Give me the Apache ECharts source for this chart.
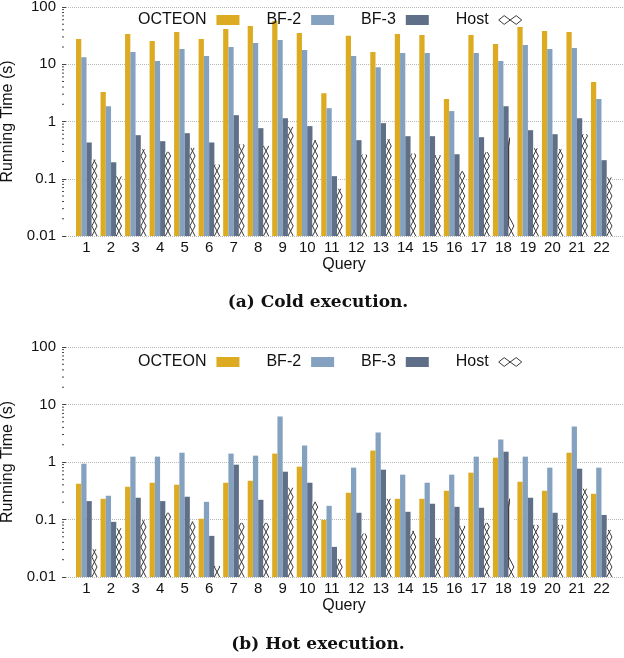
<!DOCTYPE html>
<html lang="en">
<head>
    <meta charset="UTF-8">
    <title>Running time per query</title>
    <script src="https://cdn.jsdelivr.net/npm/echarts@6/dist/echarts.min.js"></script>
    <style>
        html, body { margin: 0; padding: 0; background: #fff; }
    </style>
</head>
<body>
    <div id="main" style="width:624px;height:658px;"></div>
    <script type="text/javascript">
        // query ids and axis tick labels
        var queries = ['1','2','3','4','5','6','7','8','9','10','11','12','13','14','15','16','17','18','19','20','21','22'];
        var yTicks = ['0.01','0.1','1','10','100'];
        var yMinorSteps = [2,3,4,5,6,7,8,9];

        // cold execution, running time (s)
        var coldOcteon = [27.6, 3.26, 33.7, 25.4, 36.5, 27.6, 41.2, 46.5, 57, 35.1, 3.13, 31.5, 16.3, 33.7, 32.4, 2.46, 32.4, 22.5, 44.7, 38.0, 36.5, 4.88];
        var coldBF2    = [13.3, 1.85, 16.3, 11.4, 18.4, 13.9, 20.0, 23.5, 26.5, 17.7, 1.71, 13.9, 8.9, 15.7, 15.7, 1.52, 15.7, 11.4, 21.6, 18.4, 19.2, 2.46];
        var coldBF3    = [0.43, 0.194, 0.577, 0.453, 0.625, 0.43, 1.29, 0.765, 1.14, 0.83, 0.111, 0.472, 0.935, 0.554, 0.554, 0.268, 0.532, 1.85, 0.705, 0.60, 1.14, 0.211];
        var coldHost   = [0.216, 0.11, 0.328, 0.295, 0.346, 0.177, 0.40, 0.375, 0.806, 0.472, 0.067, 0.265, 0.49, 0.276, 0.258, 0.135, 0.291, 0.518, 0.342, 0.328, 0.60, 0.106];

        // hot execution, running time (s)
        var hotOcteon = [0.419, 0.229, 0.371, 0.436, 0.403, 0.103, 0.436, 0.472, 1.40, 0.829, 0.0987, 0.292, 1.58, 0.229, 0.229, 0.316, 0.652, 1.19, 0.454, 0.316, 1.45, 0.28];
        var hotBF2    = [0.935, 0.259, 1.24, 1.24, 1.45, 0.203, 1.40, 1.29, 6.18, 1.93, 0.173, 0.797, 3.25, 0.602, 0.436, 0.602, 1.24, 2.45, 1.24, 0.797, 4.13, 0.797];
        var hotBF3    = [0.209, 0.091, 0.239, 0.209, 0.249, 0.0519, 0.898, 0.22, 0.678, 0.436, 0.0334, 0.131, 0.735, 0.136, 0.188, 0.166, 0.16, 1.51, 0.239, 0.131, 0.765, 0.12];
        var hotHost   = [0.0304, 0.0706, 0.097, 0.131, 0.092, 0.0156, 0.0875, 0.0875, 0.357, 0.203, 0.0206, 0.057, 0.229, 0.0634, 0.048, 0.0775, 0.0875, 0.229, 0.0807, 0.0807, 0.343, 0.066];

        var colors = ['#dcab22', '#84a2c0', '#5f6f87'];
        var hatchColor = '#3a3a3a';
        var yMin = 0.01, yMax = 100;
        var groupGap = 0.144;   // share of the band left empty
        var hatchStep = 10;     // px height of one X of the Host hatch

        var chartDom = document.getElementById('main');
        var chart = echarts.init(chartDom, null, {renderer: 'canvas'});

        function toPairs(arr) {
            return arr.map(function (v, i) { return [i + 1, v]; });
        }

        // bar k of a 4-bar group, drawn through the axes
        function barRenderer(slot, hatched) {
            return function (params, api) {
                var x = api.value(0), v = api.value(1);
                var top = api.coord([x, v]);
                var base = api.coord([x, yMin]);
                var band = api.coord([x + 1, v])[0] - top[0];
                var w = band * (1 - groupGap) / 4;
                var left = top[0] - 2 * w + slot * w;
                if (!hatched) {
                    return {
                        type: 'rect',
                        shape: {x: left, y: top[1], width: w, height: base[1] - top[1]},
                        style: {fill: api.visual('color')}
                    };
                }
                var right = left + w;
                var h = base[1] - top[1];
                var ptsA = [[left, base[1]]], ptsB = [[right, base[1]]];
                var y = 0;
                while (y < h) {
                    var step = Math.min(hatchStep, h - y);
                    var frac = step / hatchStep;
                    var aFrom = ptsA[ptsA.length - 1][0], bFrom = ptsB[ptsB.length - 1][0];
                    var aTo = aFrom === left ? left + w * frac : right - w * frac;
                    var bTo = bFrom === left ? left + w * frac : right - w * frac;
                    y += step;
                    ptsA.push([aTo, base[1] - y]);
                    ptsB.push([bTo, base[1] - y]);
                    if (step < hatchStep) break;
                }
                return {
                    type: 'group',
                    children: [
                        {type: 'rect', shape: {x: left, y: top[1], width: w, height: h}, style: {fill: '#fff'}},
                        {type: 'polyline', shape: {points: ptsA}, style: {stroke: hatchColor, fill: null, lineWidth: 1}},
                        {type: 'polyline', shape: {points: ptsB}, style: {stroke: hatchColor, fill: null, lineWidth: 1}}
                    ]
                };
            };
        }

        // small inward minor ticks on the log axis
        function minorTickRenderer(params, api) {
            var p = api.coord([0, api.value(1)]);
            return {
                type: 'line',
                shape: {x1: p[0], y1: p[1], x2: p[0] + 2, y2: p[1]},
                style: {stroke: '#444', lineWidth: 1}
            };
        }

        var minorTicks = [];
        for (var d = 0; d < yTicks.length - 1; d++) {
            yMinorSteps.forEach(function (s) { minorTicks.push([0, s * Number(yTicks[d])]); });
        }

        function panelSeries(idx, oct, bf2, bf3, host) {
            var base = {type: 'custom', xAxisIndex: idx, yAxisIndex: idx, z: 3};
            return [
                Object.assign({}, base, {name: 'OCTEON', itemStyle: {color: colors[0]}, renderItem: barRenderer(0, false), data: toPairs(oct)}),
                Object.assign({}, base, {name: 'BF-2', itemStyle: {color: colors[1]}, renderItem: barRenderer(1, false), data: toPairs(bf2)}),
                Object.assign({}, base, {name: 'BF-3', itemStyle: {color: colors[2]}, renderItem: barRenderer(2, false), data: toPairs(bf3)}),
                Object.assign({}, base, {name: 'Host', itemStyle: {color: hatchColor}, renderItem: barRenderer(3, true), data: toPairs(host)}),
                Object.assign({}, base, {name: 'minor', silent: true, renderItem: minorTickRenderer, data: minorTicks})
            ];
        }

        function legendOf(top) {
            return {
                top: top, left: 138, orient: 'horizontal', align: 'right', padding: 0,
                itemWidth: 23, itemHeight: 10, itemGap: 27,
                selectedMode: false,
                textStyle: {fontFamily: 'Liberation Sans', fontSize: 16, color: '#111', padding: [0, 5, 0, 0]},
                data: [
                    {name: 'OCTEON', icon: 'rect'},
                    {name: 'BF-2', icon: 'rect'},
                    {name: 'BF-3', icon: 'rect'},
                    {name: 'Host', icon: 'path://M0,4L5,0L16,8L21,4L16,0L5,8Z',
                        itemStyle: {color: 'rgba(0,0,0,0)', borderColor: hatchColor, borderWidth: 1}}
                ]
            };
        }

        function xAxisOf(idx) {
            return {
                type: 'value', gridIndex: idx, min: 0, max: 23, interval: 1,
                name: 'Query', nameLocation: 'middle', nameGap: 21,
                nameTextStyle: {fontFamily: 'Liberation Sans', fontSize: 16, color: '#111'},
                axisLine: {show: false}, axisTick: {show: false}, splitLine: {show: false},
                axisLabel: {
                    margin: 4, fontFamily: 'Liberation Sans', fontSize: 15, color: '#111',
                    formatter: function (v) { return queries[v - 1] || ''; }
                }
            };
        }

        function yAxisOf(idx) {
            return {
                type: 'log', gridIndex: idx, logBase: 10, min: yMin, max: yMax, splitNumber: 4,
                name: 'Running Time (s)', nameLocation: 'middle', nameGap: 46,
                nameTextStyle: {fontFamily: 'Liberation Sans', fontSize: 16, color: '#111'},
                axisLine: {show: false},
                axisTick: {show: true, inside: true, length: 4, lineStyle: {color: '#444'}},
                splitLine: {show: true, lineStyle: {type: 'dotted', color: '#b8b8b8', width: 1}},
                axisLabel: {
                    margin: 6, fontFamily: 'Liberation Sans', fontSize: 15, color: '#111',
                    formatter: function (v) { return yTicks[Math.round(Math.log10(v)) + 2]; }
                }
            };
        }

        var option = {
            backgroundColor: '#fff',
            animation: false,
            grid: [
                {left: 62, right: -2, top: 7, height: 229, outerBoundsMode: 'none'},
                {left: 62, right: -2, top: 347, height: 230, outerBoundsMode: 'none'}
            ],
            legend: [legendOf(12), legendOf(354)],
            xAxis: [xAxisOf(0), xAxisOf(1)],
            yAxis: [yAxisOf(0), yAxisOf(1)],
            graphic: [
                {type: 'text', x: 318, y: 303, style: {text: '(a) Cold execution.', font: 'bold 17px "DejaVu Serif"', fill: '#111', align: 'center', verticalAlign: 'middle'}},
                {type: 'text', x: 318, y: 645, style: {text: '(b) Hot execution.', font: 'bold 17px "DejaVu Serif"', fill: '#111', align: 'center', verticalAlign: 'middle'}}
            ],
            series: panelSeries(0, coldOcteon, coldBF2, coldBF3, coldHost)
                .concat(panelSeries(1, hotOcteon, hotBF2, hotBF3, hotHost))
        };

        chart.setOption(option);
    </script>
</body>
</html>
